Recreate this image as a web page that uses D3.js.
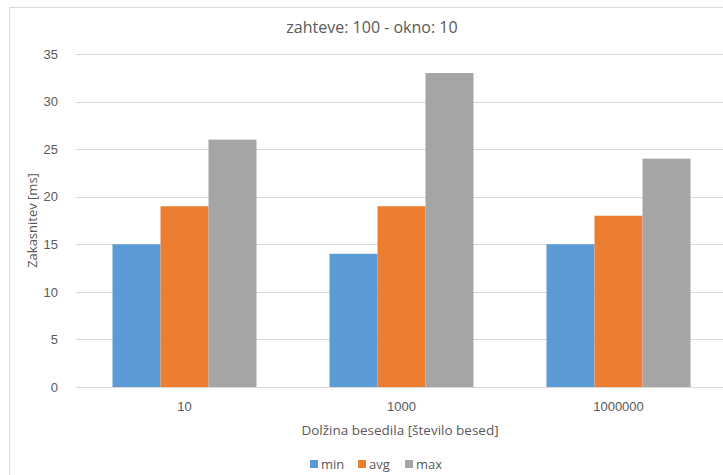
<!DOCTYPE html>
<html>
<head>
<meta charset="utf-8">
<script src="https://cdn.jsdelivr.net/npm/d3@7"></script>
<style>
  html, body { margin: 0; padding: 0; background: #fff; }
  svg { display: block; font-family: "Open Sans", "Noto Sans", sans-serif; }
</style>
</head>
<body>
<svg id="chart" width="723" height="475"></svg>
<script>
const categories = ["10", "1000", "1000000"];
const seriesNames = ["min", "avg", "max"];
const minValues = [15, 14, 15];
const avgValues = [19, 19, 18];
const maxValues = [26, 33, 24];
const yTicks = [0, 5, 10, 15, 20, 25, 30, 35];
const colors = ["#5b9bd5", "#ed7d31", "#a5a5a5"];

const seriesValues = [minValues, avgValues, maxValues];
const rows = categories.map((c, i) => ({
  category: c,
  values: seriesNames.map((s, j) => ({ series: s, value: seriesValues[j][i] }))
}));

const svg = d3.select("#chart");
const textColor = "#595959";

// Chart area frame
svg.append("rect")
  .attr("x", 9.5).attr("y", 7.5)
  .attr("width", 760).attr("height", 520)
  .attr("fill", "none").attr("stroke", "#d9d9d9");

const plot = { left: 76, right: 727, top: 54, bottom: 387 };

const x = d3.scaleBand().domain(categories).range([plot.left, plot.right]).paddingInner(0).paddingOuter(0);
const x1 = d3.scaleBand().domain(seriesNames).range([0, 144]);
const y = d3.scaleLinear().domain([0, 35]).range([plot.bottom, plot.top]);

// Gridlines
svg.append("g")
  .selectAll("line").data(yTicks).join("line")
  .attr("x1", plot.left).attr("x2", plot.right)
  .attr("y1", d => Math.round(y(d)) + 0.5).attr("y2", d => Math.round(y(d)) + 0.5)
  .attr("stroke", "#d9d9d9").attr("stroke-width", 1);

// Y axis labels
const yAxis = d3.axisLeft(y).tickValues(yTicks).tickSize(0).tickPadding(0);
const gy = svg.append("g").attr("transform", `translate(58,0)`).call(yAxis);
gy.select(".domain").remove();
gy.selectAll("text").attr("fill", textColor).style("font-size", "13px");

// Bars
const groups = svg.append("g").selectAll("g").data(rows).join("g")
  .attr("transform", d => `translate(${x(d.category) + (x.bandwidth() - 144) / 2},0)`);
groups.selectAll("rect").data(d => d.values).join("rect")
  .attr("x", d => x1(d.series))
  .attr("width", x1.bandwidth())
  .attr("y", d => y(d.value))
  .attr("height", d => y(0) - y(d.value))
  .attr("fill", (d, i) => colors[i]);

// X axis baseline and labels
svg.append("line")
  .attr("x1", plot.left).attr("x2", plot.right)
  .attr("y1", plot.bottom + 0.5).attr("y2", plot.bottom + 0.5)
  .attr("stroke", "#d9d9d9");
const xAxis = d3.axisBottom(x).tickSize(0).tickPadding(0);
const gx = svg.append("g").attr("transform", `translate(0,${plot.bottom})`).call(xAxis);
gx.select(".domain").remove();
gx.selectAll("text").attr("fill", textColor).style("font-size", "13px").attr("y", 15).attr("dy", "0.71em");

// Title
svg.append("text")
  .attr("x", 372).attr("y", 33)
  .attr("text-anchor", "middle")
  .attr("fill", textColor).style("font-size", "16px")
  .text("zahteve: 100 - okno: 10");

// Axis titles
svg.append("text")
  .attr("transform", `translate(37,${(plot.top + plot.bottom) / 2}) rotate(-90)`)
  .attr("text-anchor", "middle")
  .attr("fill", textColor).style("font-size", "13px")
  .text("Zakasnitev [ms]");

svg.append("text")
  .attr("x", 400).attr("y", 435)
  .attr("text-anchor", "middle")
  .attr("fill", textColor).style("font-size", "13.5px")
  .text("Dolžina besedila [število besed]");

// Legend
const legendX = [310, 358, 405];
const legend = svg.append("g").selectAll("g").data(seriesNames).join("g")
  .attr("transform", (d, i) => `translate(${legendX[i]},464)`);
legend.append("rect")
  .attr("x", 0).attr("y", -4).attr("width", 8).attr("height", 8)
  .attr("fill", (d, i) => colors[i]);
legend.append("text")
  .attr("x", 11).attr("y", 4.5)
  .attr("fill", textColor).style("font-size", "13px")
  .text(d => d);
</script>
</body>
</html>
